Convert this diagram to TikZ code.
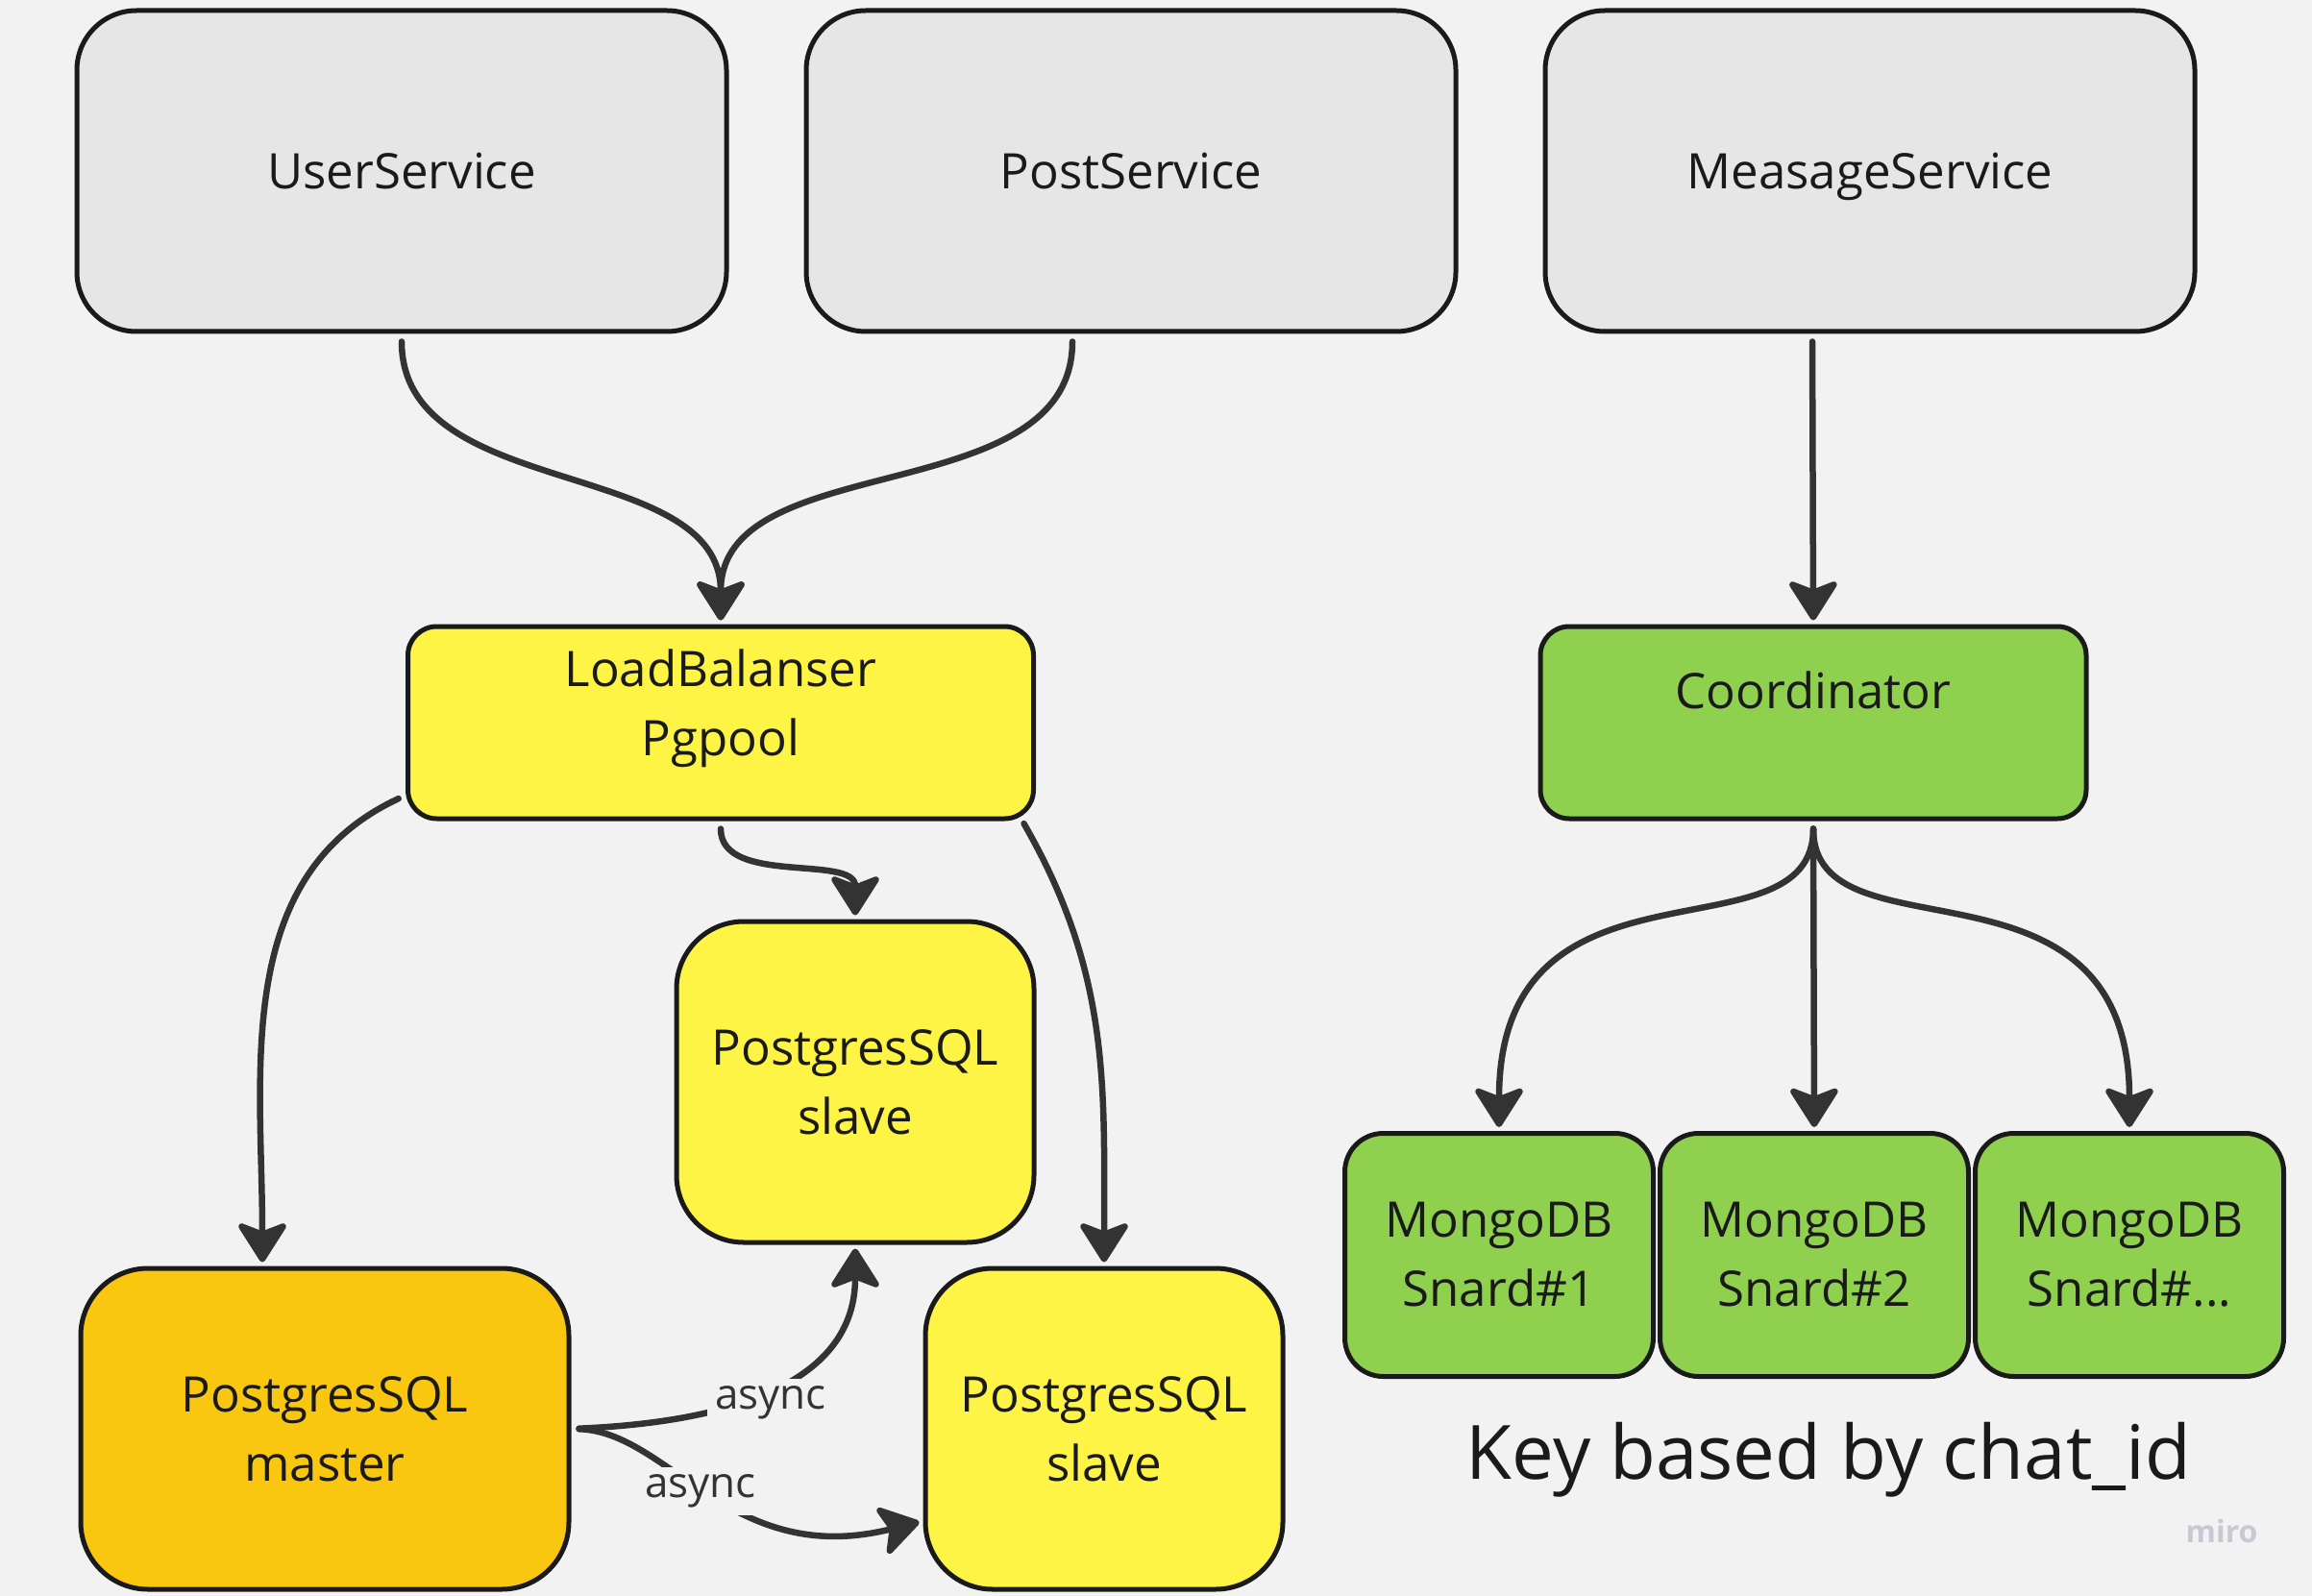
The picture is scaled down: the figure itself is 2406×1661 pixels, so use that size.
\documentclass[tikz,border=0pt]{standalone}
\usepackage{fontspec}
\setmainfont{Open Sans}
\usetikzlibrary{arrows.meta}

\definecolor{board}{HTML}{F2F2F2}
\definecolor{greybox}{HTML}{E6E6E6}
\definecolor{lemon}{HTML}{FEF445}
\definecolor{amber}{HTML}{FAC710}
\definecolor{lime}{HTML}{8FD14F}
\definecolor{ink}{HTML}{1A1A1A}
\definecolor{wire}{HTML}{333333}
\definecolor{mirogrey}{HTML}{C9C9D3}

\tikzset{
    box/.style={draw=ink, line width=5pt, rounded corners=#1, align=center,
        text=ink, font=\fontsize{51}{72}\selectfont, inner sep=0pt},
    box/.default=60pt,
    service/.style={box=62pt, fill=greybox, minimum width=676pt, minimum height=334pt,
        text height=37pt, text depth=0pt},
    pg/.style={box=70pt, fill=lemon, minimum width=372pt, minimum height=334pt},
    mongo/.style={box=40pt, fill=lime, minimum width=321pt, minimum height=253pt},
    caption/.style={align=center, text=ink, font=\fontsize{51}{72}\selectfont, inner sep=0pt},
    link/.style={draw=wire, line width=6.5pt, line cap=round,
        -{Stealth[length=46pt,width=58pt,inset=11pt,round]},
        shorten >=4pt, shorten <=8pt},
    tag/.style={fill=board, text=wire, font=\fontsize{44}{50}\selectfont, inner sep=8pt}
}

\begin{document}
\begin{tikzpicture}[x=1pt,y=-1pt]
    \fill[board] (0,0) rectangle (2406,1661);
    \useasboundingbox (0,0) rectangle (2406,1661);

    % Services on top
    \draw (418,178) node[service] (UserService) {UserService}
    ++(759,0) node[service] (PostService) {PostService}
    ++(769,0) node[service] (MeasageService) {MeasageService};

    % Balancer and coordinator, text sits a bit high
    \node[box=30pt, fill=lemon, minimum width=651pt, minimum height=200pt] (LoadBalanser) at (750,752) {};
    \node[caption] (LoadBalanserText) at ([yshift=15pt]LoadBalanser.center) {LoadBalanser\\Pgpool};
    \node[box=30pt, fill=lime, minimum width=568pt, minimum height=200pt] (Coordinator) at (1887,752) {};
    \node[caption] (CoordinatorText) at ([yshift=34pt]Coordinator.center) {Coordinator};

    % Postgres
    \draw (338,1487) node[pg, fill=amber, minimum width=508pt] (Master) {PostgresSQL\\master}
    ++(552,-361) node[pg] (SlaveA) {PostgresSQL\\slave}
    ++(259,361) node[pg] (SlaveB) {PostgresSQL\\slave};

    % Mongo shards
    \draw (1560,1306) node[mongo] (MongoA) {MongoDB\\Snard\#1}
    ++(328,0) node[mongo] (MongoB) {MongoDB\\Snard\#2}
    ++(328,0) node[mongo] (MongoC) {MongoDB\\Snard\#...};

    \node[text=ink, font=\fontsize{78}{86}\selectfont, inner sep=0pt] (KeyNote) at (1903,1519) {Key based by chat\_id};
    \node[text=mirogrey, font=\fontsize{32}{36}\selectfont\bfseries, inner sep=0pt] (Miro) at (2312,1593) {miro};

    % Connectors
    \foreach \src/\dx in {UserService/0,PostService/-61}
    {
        \draw[link] ([xshift=\dx pt]\src.south) to[out=-90,in=90] (LoadBalanser.north);
    }
    \draw[link] ([xshift=-60pt]MeasageService.south) -- (Coordinator.north);

    \foreach \m in {MongoA,MongoC}
    {
        \draw[link] (Coordinator.south) .. controls +(0,150) and +(0,-305) .. (\m.north);
    }
    \draw[link] (Coordinator.south) -- (MongoB.north);

    \draw[link] (LoadBalanser.193) to[out=205,in=90] ([xshift=-65pt]Master.north);
    \draw[link] (LoadBalanser.south) to[out=-90,in=90] (SlaveA.north);
    \draw[link, shorten <=3pt] ([xshift=-14pt]LoadBalanser.south east) to[out=-60,in=90] (SlaveB.north);

    % async replication
    \draw[link] (Master.east) .. controls +(168,-7) and +(0,143) .. (SlaveA.south);
    \draw[link] (Master.east) .. controls +(102,3) and +(-200,50) .. ([yshift=-96pt]SlaveB.west);
    \node[tag] (AsyncUp) at (802,1460) {async};
    \node[tag] (AsyncDown) at (729,1552) {async};
\end{tikzpicture}
\end{document}
